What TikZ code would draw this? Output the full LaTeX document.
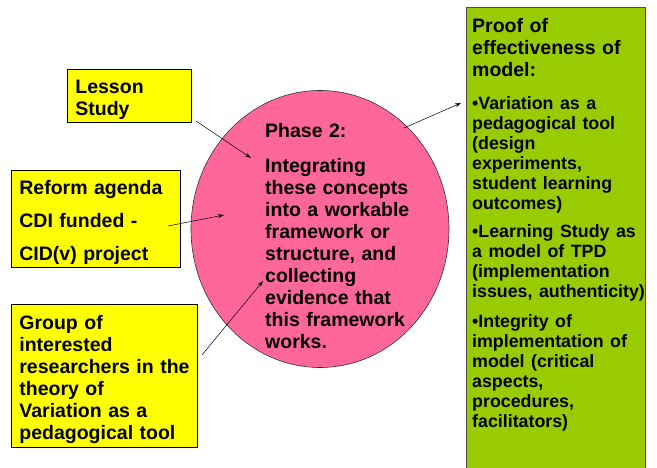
\documentclass[tikz,border=0pt]{standalone}
\usepackage{fontspec}
\setmainfont{Liberation Sans}
\usetikzlibrary{arrows.meta,shapes.geometric}
\definecolor{noteyellow}{HTML}{FFFF00}
\definecolor{phasepink}{HTML}{FF6699}
\definecolor{proofgreen}{HTML}{99CC00}
\tikzset{
    >={Stealth[length=6pt,width=4pt]},
    mind/.style={
        note/.append style={draw,line width=0.8pt,fill=noteyellow,anchor=north west,align=left,inner xsep=8pt,inner ysep=0pt,font=\bfseries\fontsize{19.5}{22}\selectfont},
        phase/.append style={draw=black!80,line width=0.6pt,ellipse,fill=phasepink,inner sep=0pt},
        words/.append style={anchor=north west,align=left,inner sep=0pt,font=\bfseries\fontsize{19.5}{22}\selectfont},
        proof/.append style={draw=black!70,line width=0.8pt,fill=proofgreen,anchor=north west,inner sep=0pt},
        link/.append style={draw,line width=0.5pt,->}
    }
}
\newcommand{\firstline}{\rule{0pt}{21pt}}

\begin{document}
\begin{tikzpicture}[mind,x=1pt,y=-1pt]
    \clip (0,0) rectangle (657,468);
    \node[note,text width=108pt,minimum height=53pt] (lesson) at (67,69) {\firstline Lesson\\Study};
    \node[note,text width=153pt,minimum height=97pt] (reform) at (11,170) {\firstline Reform agenda\\[11pt]CDI funded -\\[11pt]CID(v) project};
    \node[note,text width=170pt,minimum height=143pt] (group) at (11,304) {\firstline Group of\\interested\\\mbox{researchers in the}\\theory of\\Variation as a\\pedagogical tool};

    \node[phase,minimum width=258pt,minimum height=277pt] (phase) at (320,229) {};
    \node[words,text width=150pt] (phasetext) at (265,123) {Phase 2:\\[13pt]Integrating\\these concepts\\into a workable\\framework or\\structure, and\\collecting\\evidence that\\this framework\\works.};

    \node[proof,minimum width=179pt,minimum height=470pt] (proof) at (466,7) {};
    \node[words,text width=175pt] (prooftext) at (472,18) {%
        Proof of\\effectiveness of\\model:\par
        \vspace{13pt}
        {\fontsize{17.8}{20}\selectfont •Variation as a\\pedagogical tool\\(design\\experiments,\\student learning\\outcomes)\par
        \vspace{8pt}
        •Learning Study as\\a model of TPD\\(implementation\\\mbox{issues, authenticity)}\par
        \vspace{10pt}
        •Integrity of\\implementation of\\model (critical\\aspects,\\procedures,\\facilitators)\par}};

    % arrow ends
    \coordinate (lessonfrom) at (196,121);
    \coordinate (lessonto) at (251,158);
    \coordinate (reformfrom) at (168,226);
    \coordinate (reformto) at (224,215);
    \coordinate (groupfrom) at (202,355);
    \coordinate (groupto) at (263,281);
    \coordinate (prooffrom) at (404,128);
    \coordinate (proofto) at (461,103);

    \draw[link] (lessonfrom) -- (lessonto);
    \draw[link] (reformfrom) -- (reformto);
    \draw[link] (groupfrom) -- (groupto);
    \draw[link] (prooffrom) -- (proofto);
\end{tikzpicture}
\end{document}
